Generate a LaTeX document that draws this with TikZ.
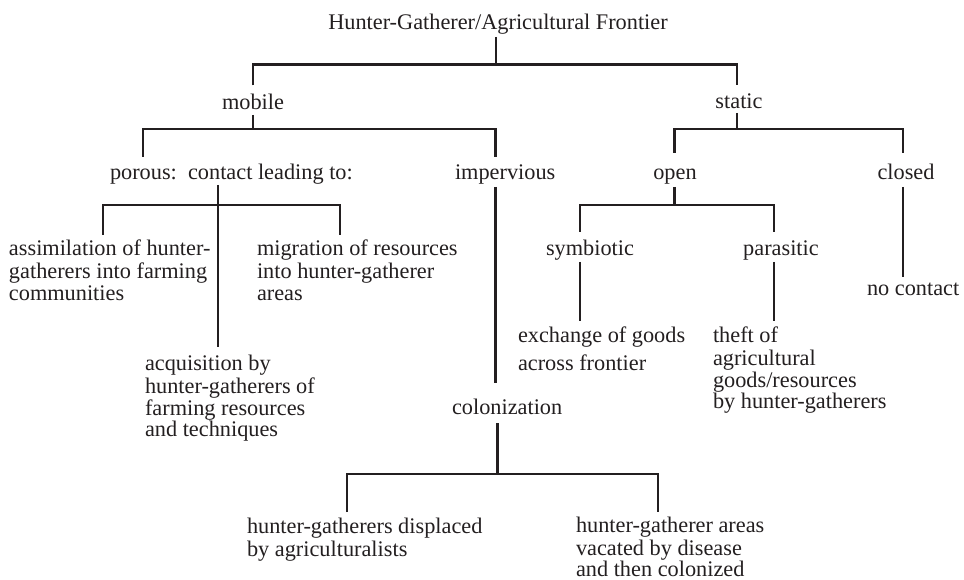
\documentclass[tikz,border=0pt]{standalone}
\usepackage{fontspec}
\setmainfont{Liberation Serif}
\definecolor{ink}{HTML}{231F20}
\tikzset{
  conn/.style={line width=2.4pt, draw=ink, line join=miter},
  lbl/.style={inner sep=0pt, outer sep=0pt, font=\fontsize{22.3}{21.7}\selectfont, text=ink},
  mlbl/.style={lbl, align=left}
}
\begin{document}
\begin{tikzpicture}[x=1pt,y=-1pt]
\useasboundingbox (0,0) rectangle (964,580);
\fill[white] (0,0) rectangle (964,580);
% text nodes
\node[lbl, anchor=base] (title) at (498,30) {Hunter-Gatherer/Agricultural Frontier};
\node[lbl, anchor=base] (mobile) at (253,110) {mobile};
\node[lbl, anchor=base] (static) at (739,109) {static};
\node[lbl, anchor=base west] (porous) at (110,180) {porous:\ \ contact leading to:};
\node[lbl, anchor=base west] (impervious) at (455,180) {impervious};
\node[lbl, anchor=base] (open) at (675,180) {open};
\node[lbl, anchor=base] (closed) at (906,180) {closed};
\node[mlbl, anchor=north west] (assim) at (9,239.8) {\strut assimilation of hunter-\\gatherers into farming\\communities};
\node[mlbl, anchor=north west] (migr) at (257,239.8) {\strut migration of resources\\into hunter-gatherer\\areas};
\node[mlbl, anchor=north west] (acq) at (145,354.8) {\strut acquisition by\\hunter-gatherers of\\farming resources\\and techniques};
\node[lbl, anchor=base] (symb) at (590,255) {symbiotic};
\node[lbl, anchor=base] (paras) at (781,255) {parasitic};
\node[lbl, anchor=base west] (nocont) at (867,295) {no contact};
\node[mlbl, anchor=north west] (exch) at (518,326.8) {\strut exchange of goods\\[4.3pt]across frontier};
\node[mlbl, anchor=north west] (theft) at (713,326.8) {\strut theft of\\agricultural\\goods/resources\\by hunter-gatherers};
\node[lbl, anchor=base west] (colon) at (452,414) {colonization};
\node[mlbl, anchor=north west] (displ) at (247,517.8) {\strut hunter-gatherers displaced\\by agriculturalists};
\node[mlbl, anchor=north west] (areas) at (576,516.8) {\strut hunter-gatherer areas\\vacated by disease\\and then colonized};
% connector points
\coordinate (tDn) at (496,37);   \coordinate (j0) at (496,64.5);
\coordinate (mobUp) at (253,85.5); \coordinate (staUp) at (737,85.5);
\coordinate (mDn) at (253,115);  \coordinate (j1) at (253,129);
\coordinate (porUp) at (143,157); \coordinate (impUp) at (495.5,157);
\coordinate (sDn) at (737,113);  \coordinate (j2) at (737,129);
\coordinate (opnUp) at (674.5,153); \coordinate (cloUp) at (903,153);
\coordinate (pDn) at (218,185);  \coordinate (j3) at (218,205);
\coordinate (asmUp) at (103,235); \coordinate (migUp) at (340,235);
\coordinate (acqUp) at (218,347);
\coordinate (iDn) at (495.5,187); \coordinate (colUp) at (495.5,383);
\coordinate (cDn) at (903,187);  \coordinate (ncUp) at (903,277);
\coordinate (oDn) at (674.5,187); \coordinate (j4) at (674.5,205);
\coordinate (symUp) at (580,232); \coordinate (parUp) at (774,232);
\coordinate (syDn) at (580,262); \coordinate (exUp) at (580,321);
\coordinate (paDn) at (774,262); \coordinate (thUp) at (774,321);
\coordinate (coDn) at (497.5,423); \coordinate (j5) at (497.5,474);
\coordinate (dspUp) at (347,512); \coordinate (areUp) at (658,512);
% connectors
\draw[conn] (tDn) -- (j0);
\draw[conn] (mobUp) |- (j0) -| (staUp);
\draw[conn] (mDn) -- (j1);
\draw[conn] (porUp) |- (j1) -| (impUp);
\draw[conn] (sDn) -- (j2);
\draw[conn] (opnUp) |- (j2) -| (cloUp);
\draw[conn] (pDn) -- (j3);
\draw[conn] (asmUp) |- (j3) -| (migUp);
\draw[conn] (j3) -- (acqUp);
\draw[conn] (iDn) -- (colUp);
\draw[conn] (cDn) -- (ncUp);
\draw[conn] (oDn) -- (j4);
\draw[conn] (symUp) |- (j4) -| (parUp);
\draw[conn] (syDn) -- (exUp);
\draw[conn] (paDn) -- (thUp);
\draw[conn] (coDn) -- (j5);
\draw[conn] (dspUp) |- (j5) -| (areUp);
\end{tikzpicture}
\end{document}
